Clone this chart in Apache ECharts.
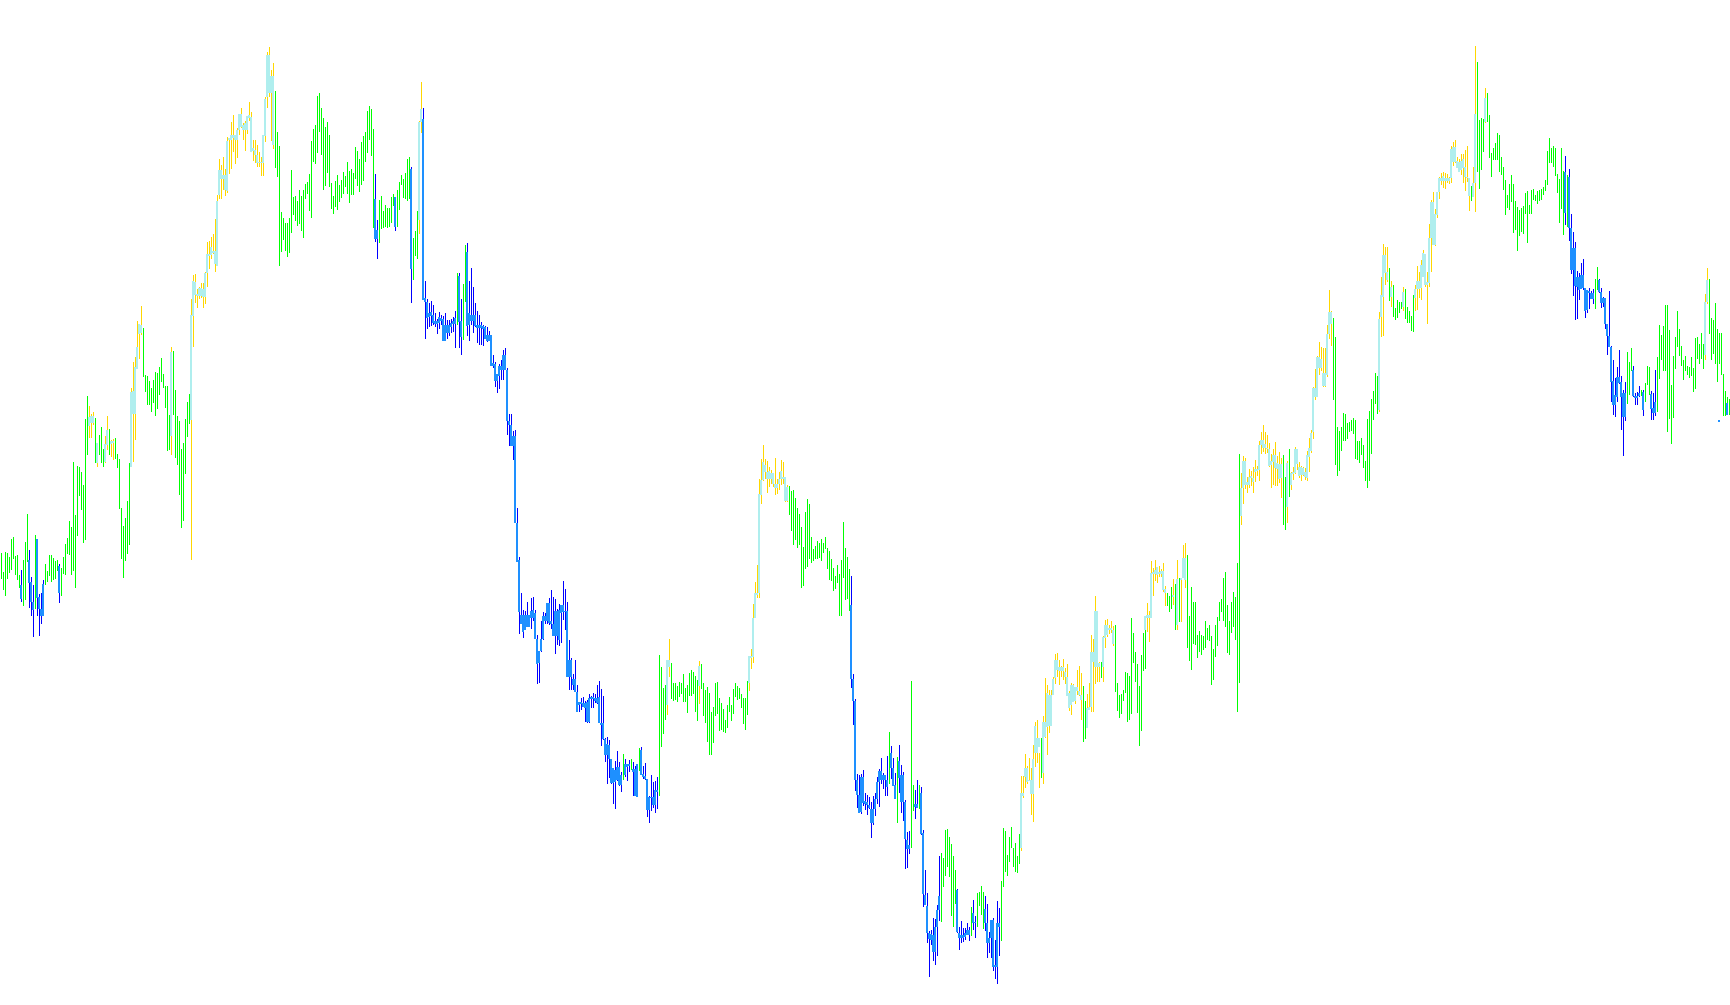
<!DOCTYPE html>
<html><head><meta charset="utf-8"><style>html,body{margin:0;padding:0;background:#fff}#c{width:1730px;height:1005px}</style>
<script src="https://cdn.jsdelivr.net/npm/echarts@6/dist/echarts.min.js"></script></head><body><div id="c"></div><script>
const kinds1="g".repeat(10)+"b"+"ggg"+"bbb"+"g"+"bbbb"+"g".repeat(7)+"b"+"g".repeat(14)+"yyy"+"g"+"y"+"ggg"+"yy"+"g"+"yy"+"g".repeat(8)+"y".repeat(6)+"g".repeat(14)+"y"+"g".repeat(9)+"yy";
const high1=[452,433,453,452,448,466,468,449,450,430,435,445,463,491,455,428,420,470,466,411,412,425,441,434,450,450,447,444,445,441,437,448,461,467,484,478,543,490,539,538,533,520,586,609,599,591,593,587,562,570,578,556,569,589,576,565,566,567,551,546,497,479,487,504,542,617,643,648,684,681,699,677,630,629,624,617,625,633,632,638,647,631,619,619,590,658,654,615,589,584,556,562,586,603,611,706,730];
const low1=[426,415,409,426,432,435,446,430,425,417,403,399,405,443,397,389,368,396,389,369,381,389,420,423,429,423,425,426,434,402,409,431,430,451,450,430,434,417,469,509,495,462,465,550,567,567,580,542,538,550,542,538,542,555,550,548,545,546,537,496,446,427,444,451,460,538,543,565,636,646,670,628,613,600,600,593,602,589,596,610,623,617,597,554,555,550,590,547,540,510,477,484,531,568,581,445,658];
const top1=[420,445,423,403,466,408,396,421,439,588,589,589,562,561,575,564,564,613,614,638,658,681,680,653,690,724];
const bot1=[406,422,403,395,407,396,389,389,412,579,582,582,542,543,560,561,562,538,591,591,636,671,672,569,585,689];

const kinds2="y".repeat(40)+"g".repeat(50)+"bbggg";
const high2=[731,716,718,722,722,733,763,764,768,771,786,810,846,840,848,836,868,867,883,890,870,877,891,897,882,884,889,903,893,865,865,860,853,848,870,908,953,958,935,942,914,873,859,793,787,782,782,787,835,808,809,804,815,809,815,821,823,831,864,876,880,909,912,897,887,878,883,870,822,809,824,830,820,825,833,829,843,834,836,832,858,854,846,863,869,873,894,899,896,876,831,785,805,809,794];
const low2=[702,697,706,707,697,701,718,736,746,751,733,788,806,806,815,809,812,831,836,853,841,847,870,877,865,854,871,884,853,844,842,838,838,829,829,863,897,908,864,856,837,828,739,753,765,754,748,752,772,790,784,779,781,774,767,806,811,794,787,843,841,852,873,850,815,819,832,818,796,791,798,795,803,807,811,818,811,802,810,810,826,819,813,820,824,843,852,865,849,777,763,746,762,776,777];
const top2=[723,711,717,717,716,732,751,751,758,754,754,804,835,835,830,830,864,867,870,870,870,875,891,891,880,882,889,890,888,857,855,850,843,843,870,906,950,950,929,929,806,775];
const bot2=[710,709,709,709,708,708,732,749,750,752,741,739,810,826,826,815,814,865,865,867,865,865,875,878,875,875,875,887,853,854,850,842,842,842,842,869,908,912,912,860,766,766];

const kinds3="g".repeat(5)+"b"+"g".repeat(7)+"b"+"ggg"+"yy"+"b".repeat(17)+"g"+"bb"+"gg"+"b".repeat(54);
const high3=[800,797,797,808,811,808,815,823,830,826,832,846,848,838,767,774,794,884,923,897,724,706,702,704,700,692,686,693,690,689,692,685,685,686,688,694,732,732,706,721,760,762,724,737,718,702,694,690,683,680,679,678,674,670,650,643,631,641,645,655,657,637,591,591,574,575,497,448,412,395,394,403,390,407,408,395,370,354,384,393,392,402,407,415,408,406,396,401,399,424,416,403,365,347,331];
const low3=[778,777,778,782,799,774,778,795,820,807,806,804,806,702,725,749,746,771,872,705,666,676,678,679,680,678,671,676,680,664,664,666,669,672,673,657,680,657,650,665,703,669,664,680,672,678,662,660,660,659,666,663,664,639,637,618,612,616,625,625,635,570,559,559,545,482,443,371,381,367,378,378,378,376,384,366,321,322,353,365,381,381,380,376,369,351,360,359,362,385,375,328,315,315,315];
const top3=[808,836,883,896,886,707,703,692,693,690,684,684,688,687,686,680,680,680,682,684,687,729,684,753,692,690,690,690,680,680,680,679,678,670,670,670,642,641,631,639,639,650,650,635,584,580,569,569,482,445,390,390,390,390,390,394,395,392,366,354,366,389,389,402,402,384,381,394,394,395,400,400,394,394,345,345,326];
const bot3=[778,736,785,883,705,703,687,688,689,682,681,681,682,684,664,664,672,672,678,681,681,683,668,679,680,684,684,679,677,677,677,676,666,664,664,639,639,624,624,629,635,635,635,584,580,559,559,482,443,393,381,373,375,378,378,387,387,366,341,342,354,366,384,384,382,381,369,369,369,365,392,393,393,328,328,328,320];

const kinds4="b".repeat(24)+"g"+"bbb"+"g"+"bbb"+"g"+"b".repeat(9)+"gggg"+"yy"+"g".repeat(14)+"y"+"g".repeat(24)+"y".repeat(8);
const high4=[345,320,303,307,308,304,305,311,309,312,311,320,324,316,309,267,268,265,246,237,244,254,243,233,251,246,240,245,246,243,239,241,257,258,239,242,226,209,230,223,224,228,350,338,317,320,345,366,342,322,322,319,323,322,331,317,320,332,335,333,329,325,344,341,322,315,318,312,293,298,322,323,307,302,296,285,300,308,300,316,322,319,317,311,307,307,324,349,356,401,423,440,526,546,560];
const low4=[313,293,293,295,298,283,282,282,297,297,302,301,284,259,265,243,221,227,221,201,196,224,219,213,225,228,224,233,235,209,209,208,234,230,226,225,188,182,194,197,192,196,209,258,271,285,290,328,306,304,305,303,308,311,303,303,292,309,309,311,293,284,301,316,289,282,263,250,250,262,289,291,274,275,273,272,277,293,284,291,308,305,306,297,281,275,290,314,336,342,405,407,407,501,524];
const top4=[326,313,303,303,302,302,303,307,308,308,307,307,308,282,282,266,261,260,246,237,235,238,238,230,241,241,241,236,236,241,255,231,229,226,208,208,208,215,215,345,345,339,349,349,387,412,412,511,525,543];
const bot4=[313,293,300,301,298,297,283,283,306,306,304,302,282,280,266,250,250,246,222,222,223,225,220,220,230,238,239,233,209,208,230,228,226,195,195,207,200,200,213,300,338,319,322,347,348,387,410,412,510,525];

const kinds5="y".repeat(12)+"g".repeat(31)+"b".repeat(19)+"g"+"bbb"+"g"+"b".repeat(6)+"gg"+"bb"+"g"+"b".repeat(10)+"g".repeat(7);
const high5=[546,544,538,535,531,547,526,533,545,543,528,520,519,514,515,507,497,491,478,458,493,506,501,468,456,459,464,462,466,462,468,457,454,446,437,429,440,431,445,483,457,448,436,429,331,306,231,230,231,235,212,210,208,203,209,212,228,236,247,232,228,249,273,259,247,232,248,260,240,233,205,173,174,324,220,215,225,220,218,175,135,112,74,75,87,86,100,149,152,147,175,176,168,161,149];
const low5=[526,512,518,521,518,510,511,515,520,521,503,503,490,474,460,465,457,460,417,419,436,438,446,442,444,446,446,447,444,452,456,436,425,424,414,416,422,389,389,427,405,406,394,317,280,214,197,192,191,199,195,190,196,167,180,189,201,198,221,216,209,209,221,226,219,206,182,212,192,184,136,137,151,157,194,186,197,196,170,98,100,62,28,60,44,40,49,84,83,118,129,138,128,89,78];
const top5=[540,533,534,532,532,521,521,526,534,528,528,518,400,326,304,225,210,228,228,204,203,200,196,196,206,223,234,234,230,230,225,252,237,220,244,230,230,203,165,160,201,201,212,172,110,99,72,71,70,78,95,109];
const bot5=[533,526,526,526,521,517,517,521,526,526,504,504,326,304,225,210,192,193,202,201,200,197,182,182,196,206,223,225,225,225,218,237,219,206,227,203,203,166,156,156,198,197,171,111,100,72,66,65,53,53,78,95];

const kinds6="g"+"b".repeat(7)+"g"+"bb"+"gggg"+"b".repeat(8)+"g".repeat(10)+"y".repeat(10)+"g"+"y".repeat(20)+"gg"+"y".repeat(7)+"g"+"y".repeat(6)+"g".repeat(15);
const high6=[135,116,78,84,77,77,82,78,98,105,89,112,113,119,113,109,101,73,85,87,65,104,97,124,177,174,150,168,178,157,162,149,171,229,229,251,239,247,237,260,283,285,252,267,289,327,320,315,315,328,351,352,345,339,346,337,341,314,322,321,318,335,339,332,319,304,311,322,370,366,409,347,343,343,369,385,386,380,384,379,380,322,310,311,315,333,332,329,387,372,353,341,319,350,372];
const low6=[101,72,55,62,63,65,70,64,69,75,67,78,99,90,76,74,47,52,47,34,26,21,49,64,118,133,129,143,157,138,133,132,141,154,207,217,221,224,190,183,238,242,217,227,221,267,250,272,279,310,321,328,320,328,325,321,309,294,290,303,301,310,309,285,263,266,277,295,293,293,321,323,323,327,323,357,368,371,372,359,313,294,287,291,304,312,283,285,291,342,323,292,259,274,334];
const top6=[115,72,70,70,72,75,75,92,83,96,82,67,85,85,40,82,82,212,212,237,237,225,225,246,279,267,267,283,283,312,310,310,326,345,345,338,338,338,333,328,312,320,320,318,318,314,310,297,298,353,353,394,394,342,368,380,380,377,377,375];
const bot6=[73,67,67,67,68,70,70,82,82,82,62,62,67,38,38,38,78,157,209,228,223,225,211,211,252,252,258,232,268,278,279,279,310,327,335,334,334,334,328,309,297,300,303,304,314,310,305,277,295,298,343,338,338,338,338,367,370,375,375,361];

const kinds7="n"+"y".repeat(10)+"ggg"+"y"+"g"+"y"+"g"+"yyy"+"g".repeat(27)+"y".repeat(21)+"gg"+"y"+"g"+"y".repeat(21)+"g";
const high7=[389,402,394,444,437,445,438,439,436,442,419,412,409,418,426,421,445,427,427,460,462,450,389,418,403,403,370,374,370,369,384,377,380,369,356,380,388,403,406,427,433,400,384,403,413,408,442,551,532,549,547,528,536,534,538,545,539,564,573,580,573,570,562,551,556,563,549,553,547,550,528,544,556,533,538,558,541,543,539,538,537,554,567,575,618,636,649,663,658,657,657,680,715,694,687];
const low7=[336,373,363,409,409,424,422,428,428,413,399,399,393,396,400,375,375,383,383,427,417,357,344,335,361,360,347,353,350,355,357,365,364,320,325,348,359,384,393,384,378,352,350,372,378,365,293,322,480,501,516,512,517,519,512,523,529,524,551,553,551,552,538,517,520,519,519,522,507,480,475,482,508,515,525,531,535,527,524,529,525,524,533,552,566,605,608,630,634,618,618,628,666,659,605];
const top7=[389,390,390,432,433,435,438,433,434,434,416,410,426,427,447,447,517,544,544,523,528,529,527,536,536,560,565,565,561,557,556,544,550,550,542,541,541,542,532,533,556,556,538,538,537,533,550,557,572,617,617,648,648,646,632,632,671,693,693];
const bot7=[375,387,387,387,431,431,430,431,431,415,412,408,380,425,427,425,489,517,520,520,520,527,523,533,534,535,560,557,557,556,539,540,543,537,536,526,527,498,520,531,532,541,529,530,530,528,527,548,554,573,608,608,637,637,619,619,630,671,681];

const kinds8="g".repeat(22)+"y".repeat(5)+"g"+"y"+"g".repeat(5)+"y"+"g".repeat(5)+"y".repeat(28)+"g"+"yy"+"gggg"+"y"+"g".repeat(19);
const high8=[668,578,574,578,592,591,582,583,585,587,585,564,564,567,560,544,586,594,606,614,632,629,693,728,761,758,758,737,724,720,697,705,703,703,718,716,698,694,689,710,720,739,733,745,755,751,733,781,805,813,796,813,828,832,833,832,831,828,859,863,865,848,846,851,851,855,859,823,819,838,959,943,885,887,886,917,912,890,852,857,862,872,870,848,838,825,810,821,830,821,804,798,795,797,799];
const low8=[540,529,534,554,564,564,566,573,574,571,546,545,542,550,537,524,517,524,551,585,601,591,593,668,669,720,723,704,698,688,685,687,692,696,694,686,682,682,674,673,694,695,707,705,728,718,681,718,733,760,759,787,806,820,817,816,822,821,822,839,842,837,833,830,822,814,823,794,804,809,793,833,816,835,853,882,883,847,828,845,845,845,833,830,815,790,797,795,803,772,775,754,769,773,771];
const top8=[686,710,750,750,733,718,713,716,724,724,740,752,751,723,767,803,803,791,813,827,827,829,827,827,827,856,858,858,844,843,844,846,838,828,827,822,891,907];
const bot8=[595,688,708,732,725,708,698,707,716,716,717,728,720,720,722,767,760,760,790,813,824,824,824,824,824,827,843,843,837,833,835,837,828,827,809,808,822,883];

const kinds9="g".repeat(20)+"b"+"g"+"b".repeat(13)+"gg"+"b".repeat(14)+"ggg"+"bbbb"+"g"+"b"+"ggg"+"bbb"+"g".repeat(24)+"yy"+"g".repeat(5)+"m"+"ggg"+"m"+"g";
const high9=[812,814,800,815,816,810,814,815,816,818,825,854,867,857,859,857,831,826,857,834,849,830,836,791,773,763,734,732,742,746,717,705,717,714,716,726,738,726,717,708,707,681,714,659,645,627,638,655,629,615,623,653,643,657,639,612,613,619,615,615,622,639,638,614,612,635,648,680,670,679,700,700,675,620,649,668,694,676,659,645,649,639,638,648,637,667,668,661,672,661,711,737,726,687,685,702,676,672,672,631,614,608,606];
const low9=[791,762,791,791,805,804,801,804,805,810,814,820,842,842,838,829,812,782,796,770,780,778,764,731,709,685,686,705,716,715,687,692,696,706,701,696,715,712,697,698,676,650,658,603,590,588,603,621,575,549,584,601,610,634,608,600,600,608,609,589,603,620,610,585,585,589,593,626,645,634,634,573,586,561,587,636,658,649,639,625,634,630,627,629,613,616,646,641,646,636,645,701,671,645,651,641,623,641,630,589,589,591,590];
const top9=[833,828,777,757,757,728,728,730,730,717,715,714,712,712,725,713,707,707,681,669,658,624,610,628,628,623,612,612,635,609,609,612,613,611,597,603,703,725,585,602];
const bot9=[792,777,735,735,719,718,715,716,717,694,695,712,706,706,713,702,702,681,669,658,623,600,600,608,622,608,588,588,609,607,607,609,595,596,592,592,650,703,583,590];

const kinds=kinds1+kinds2+kinds3+kinds4+kinds5+kinds6+kinds7+kinds8+kinds9;
const highs=[...high1,...high2,...high3,...high4,...high5,...high6,...high7,...high8,...high9];
const lows=[...low1,...low2,...low3,...low4,...low5,...low6,...low7,...low8,...low9];
const tops=[...top1,...top2,...top3,...top4,...top5,...top6,...top7,...top8,...top9];
const bots=[...bot1,...bot2,...bot3,...bot4,...bot5,...bot6,...bot7,...bot8,...bot9];
const categories=highs.map((_,i)=>String(i+1));
const wickColor={g:'#00FF00',y:'#FFD700',b:'#0000FF',m:'#00FF00',n:'#00FF00'};
const bodyColor={y:'#AFEEEE',b:'#1E90FF',m:'#1E90FF',n:'#AFEEEE'};
const kindList=['g','y','b','m','n'];
const wickData=[],bodyData=[];let k=0;
for(let i=0;i<highs.length;i++){
  const c=kinds[i];
  wickData.push([i,highs[i],lows[i],kindList.indexOf(c)]);
  if(c!=='g'){bodyData.push([i,tops[k],bots[k],kindList.indexOf(c)]);k++;}
}
function mk(colorOf,widthFactor,offset){
  return function(params,api){
    const i=api.value(0);
    const band=api.size([1,0])[0];
    const a=api.coord([i,api.value(1)]);
    const b=api.coord([i,api.value(2)]);
    const c=kindList[api.value(3)];
    return {type:'rect',shape:{x:a[0]+offset*band,y:a[1],width:band*widthFactor,height:Math.max(1,b[1]-a[1])},style:{fill:colorOf[c]}};
  };
}
const chart=echarts.init(document.getElementById('c'),null,{renderer:'canvas'});
chart.setOption({
  animation:false,backgroundColor:'#fff',
  grid:{left:0,right:0,top:0,bottom:0},
  xAxis:{type:'category',data:categories,show:false,boundaryGap:true},
  yAxis:{type:'value',min:0,max:1005,show:false},
  series:[
    {type:'custom',silent:true,z:2,data:wickData,encode:{x:0,y:[1,2]},renderItem:mk(wickColor,0.5,0)},
    {type:'custom',silent:true,z:3,data:bodyData,encode:{x:0,y:[1,2]},renderItem:mk(bodyColor,1,-0.5)}
  ]
});
</script></body></html>
